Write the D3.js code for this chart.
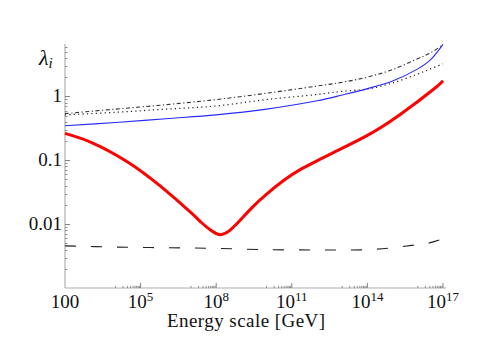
<!DOCTYPE html>
<html>
<head>
<meta charset="utf-8">
<script src="https://cdn.jsdelivr.net/npm/d3@7"></script>
<style>
  html, body { margin: 0; padding: 0; background: #fff; }
  svg { display: block; }
</style>
</head>
<body>
<svg id="chart" width="491" height="349" font-family="'Liberation Serif', 'Times New Roman', serif"></svg>
<script>
// ---- data ----
const redEnergy = [1e2, 1.26e3, 3.16e4, 6.31e5, 1e7, 2.51e7, 6.31e7, 1.41e8, 3.16e8, 8.91e8, 2.82e9, 1e10, 5.01e10, 2e11, 1e12, 4.47e12, 1e14, 2e15, 3.98e16, 1e17];
const redLambda = [0.263, 0.186, 0.0933, 0.0389, 0.0151, 0.0107, 0.00794, 0.00684, 0.00776, 0.0115, 0.0186, 0.0295, 0.049, 0.070, 0.0977, 0.132, 0.245, 0.52, 1.27, 1.76];

const smoothEnergy = [1e2, 1e4, 1e6, 1e8, 1e10, 1e12, 1e13, 1e14, 1e15, 1e16, 3.16e16, 1e17];
const blueLambda    = [0.347, 0.389, 0.447, 0.513, 0.631, 0.851, 1.05, 1.32, 1.74, 2.69, 3.72, 6.5];
const dottedLambda  = [0.513, 0.562, 0.631, 0.708, 0.891, 1.07, 1.20, 1.30, 1.62, 2.24, 2.69, 3.24];
const dashDotLambda = [0.537, 0.631, 0.741, 0.891, 1.12, 1.45, 1.66, 2.00, 2.63, 3.89, 4.79, 6.4];
const dashedLambda  = [0.00457, 0.00437, 0.00427, 0.00417, 0.00398, 0.00394, 0.00394, 0.00398, 0.00427, 0.00479, 0.00513, 0.00589];

const xTickValues = [1e2, 1e5, 1e8, 1e11, 1e14, 1e17];
const xTickBase = ["100", "10", "10", "10", "10", "10"];
const xTickSup  = ["", "5", "8", "11", "14", "17"];
const yTickValues = [0.01, 0.1, 1];
const yTickLabels = ["0.01", "0.1", "1"];
const xLabel = "Energy scale [GeV]";

// ---- chart ----
const svg = d3.select("#chart");
const x = d3.scaleLog().domain([1e2, 1e17]).range([65, 443]);
const y = d3.scaleLog().domain([0.001, 6.6]).range([288, 44]);

const axisCol = "#b0b0b0";
const tickCol = "#777";
const textCol = "#111";

svg.append("line").attr("x1", x(1e2)).attr("x2", x(1e2)).attr("y1", y(6.6)).attr("y2", y(0.001))
  .attr("stroke", axisCol).attr("stroke-width", 1.2);
svg.append("line").attr("x1", x(1e2)).attr("x2", 446).attr("y1", y(0.001)).attr("y2", y(0.001))
  .attr("stroke", axisCol).attr("stroke-width", 1.2);

// y minor ticks
const yMinor = [];
for (let e = -3; e <= 0; e++) for (let k = 2; k <= 9; k++) { const v = k * Math.pow(10, e); if (v <= 6.6) yMinor.push(v); }
svg.append("g").selectAll("line").data(yMinor).join("line")
  .attr("x1", x(1e2)).attr("x2", x(1e2) + 2.5)
  .attr("y1", d => Math.round(y(d)) + 0.5).attr("y2", d => Math.round(y(d)) + 0.5)
  .attr("stroke", tickCol).attr("stroke-width", 0.8);
svg.append("g").selectAll("line").data(yTickValues).join("line")
  .attr("x1", x(1e2)).attr("x2", x(1e2) + 5)
  .attr("y1", d => Math.round(y(d)) + 0.5).attr("y2", d => Math.round(y(d)) + 0.5)
  .attr("stroke", tickCol).attr("stroke-width", 0.9);
svg.append("g").selectAll("text").data(yTickValues).join("text")
  .attr("x", 62).attr("y", d => y(d) + 6)
  .attr("text-anchor", "end").attr("font-size", 19).attr("fill", textCol)
  .text((d, i) => yTickLabels[i]);

// x minor ticks (1..9 x 10^(n-1) before each major)
const xMinor = [];
xTickValues.slice(1).forEach(v => { for (let k = 1; k <= 9; k++) xMinor.push(k * v / 10); });
svg.append("g").selectAll("line").data(xMinor).join("line")
  .attr("x1", d => x(d)).attr("x2", d => x(d))
  .attr("y1", y(0.001)).attr("y2", y(0.001) - 2.2)
  .attr("stroke", tickCol).attr("stroke-width", 0.8);
svg.append("g").selectAll("line").data(xTickValues.slice(1)).join("line")
  .attr("x1", d => x(d)).attr("x2", d => x(d))
  .attr("y1", y(0.001)).attr("y2", y(0.001) - 5)
  .attr("stroke", tickCol).attr("stroke-width", 0.9);

const xt = svg.append("g").selectAll("text").data(xTickValues).join("text")
  .attr("x", d => x(d)).attr("y", 308)
  .attr("text-anchor", "middle").attr("font-size", 19).attr("fill", textCol);
xt.append("tspan").text((d, i) => xTickBase[i]);
xt.append("tspan").attr("font-size", 13).attr("dy", -7).text((d, i) => xTickSup[i]);

svg.append("text").attr("x", 246).attr("y", 327).attr("text-anchor", "middle")
  .attr("font-size", 19).attr("fill", textCol)
  .attr("textLength", 158).attr("lengthAdjust", "spacing").text(xLabel);

// lambda_i label
const lt = svg.append("text").attr("x", 39).attr("y", 65).attr("font-size", 22).attr("font-style", "italic").attr("fill", textCol);
lt.append("tspan").text("λ");
lt.append("tspan").attr("font-size", 15).attr("dy", 3).text("i");

// curves
function drawLine(energy, vals, opts) {
  const line = d3.line().x((d, i) => x(energy[i])).y(d => y(d)).curve(opts.curve);
  svg.append("path").datum(vals).attr("d", line).attr("fill", "none")
    .attr("stroke", opts.color).attr("stroke-width", opts.width)
    .attr("stroke-dasharray", opts.dash || null).attr("stroke-linecap", "butt");
}
const cr = d3.curveCatmullRom.alpha(0.5);
drawLine(smoothEnergy, dashedLambda, { color: "#222", width: 1.1, dash: "11,15", curve: cr });
drawLine(smoothEnergy, dottedLambda, { color: "#222", width: 1.2, dash: "1.2,3.2", curve: cr });
drawLine(smoothEnergy, dashDotLambda, { color: "#333", width: 1.1, dash: "4,2.5,1.2,2.5", curve: cr });
drawLine(smoothEnergy, blueLambda, { color: "#2a2aff", width: 1.1, curve: cr });
drawLine(redEnergy, redLambda, { color: "#ff0000", width: 3, curve: d3.curveNatural });
</script>
</body>
</html>
